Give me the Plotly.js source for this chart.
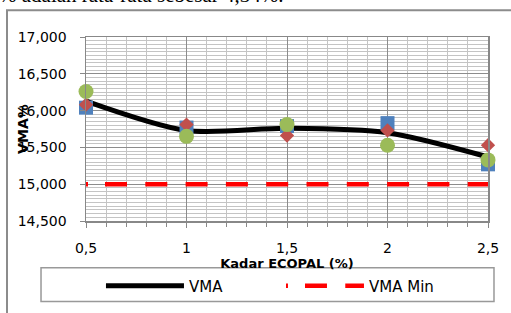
<!DOCTYPE html>
<html>
<head>
<meta charset="utf-8">
<script src="https://cdn.plot.ly/plotly-3.0.1.min.js"></script>
<style>html,body{margin:0;padding:0;background:#fff;}#chart{width:511px;height:313px;}</style>
</head>
<body>
<div id="chart"></div>
<script>
// Kadar ECOPAL (%)
var kadar = [0.5, 1, 1.5, 2, 2.5];
// individual samples (VMA %)
var sampel1 = [16.04, 15.77, 15.79, 15.83, 15.27];
var sampel2 = [16.08, 15.81, 15.66, 15.73, 15.53];
var sampel3 = [16.26, 15.65, 15.81, 15.53, 15.33];
// average line
var vma = [16.13, 15.73, 15.76, 15.70, 15.37];
// minimum spec
var vmaMin = [15, 15, 15, 15, 15];

var traces = [
  {x: kadar, y: vma, name: 'VMA', mode: 'lines', type: 'scatter',
   line: {color: '#000000', width: 5, shape: 'spline', smoothing: 0.8}},
  {x: kadar, y: vmaMin, name: 'VMA Min', mode: 'lines', type: 'scatter',
   line: {color: '#ff0000', width: 4.5, dash: '2px,17px,22px,18.3px,22px,18.3px,22px,18.3px,22px,18.3px,22px,18.3px,22px,18.3px,22px,18.3px,22px,18.3px,22px,18.3px,22px,18.3px'}},
  {x: kadar, y: sampel1, mode: 'markers', type: 'scatter', showlegend: false, cliponaxis: false,
   marker: {symbol: 'square', size: 14, color: '#4F81BD'}},
  {x: kadar, y: sampel2, mode: 'markers', type: 'scatter', showlegend: false, cliponaxis: false,
   marker: {symbol: 'diamond', size: 11, color: '#C0504D'}},
  {x: kadar, y: sampel3, mode: 'markers', type: 'scatter', showlegend: false, cliponaxis: false,
   marker: {symbol: 'circle', size: 15, color: '#9BBB59'}}
];

var layout = {
  width: 511, height: 313,
  margin: {l: 86, r: 23, t: 37, b: 91, pad: 0},
  paper_bgcolor: '#ffffff', plot_bgcolor: '#ffffff',
  separators: ',.',
  font: {family: 'DejaVu Sans', size: 14, color: '#000000'},
  showlegend: true,
  legend: {orientation: 'h', x: 0.485, xanchor: 'center', y: -0.346, yanchor: 'middle',
           bgcolor: 'rgba(0,0,0,0)', font: {size: 15}, itemwidth: 78, entrywidth: 87},
  xaxis: {range: [0.5, 2.5], tickmode: 'linear', tick0: 0.5, dtick: 0.5, ticks: 'outside', ticklen: 5, tickcolor: '#888888',
          showline: true, linecolor: '#888888', linewidth: 1.5, mirror: true,
          showgrid: true, gridcolor: '#8c8c8c', gridwidth: 1, zeroline: false,
          ticklabelstandoff: 9,
          minor: {dtick: 0.1, showgrid: true, gridcolor: '#c4c4c4', gridwidth: 1,
                  ticks: 'outside', ticklen: 4, tickcolor: '#888888'},
          title: {text: '<b>Kadar ECOPAL (%)</b>', font: {size: 13}, standoff: 2}},
  yaxis: {range: [14.5, 17], tickmode: 'linear', tick0: 14.5, dtick: 0.5, tickformat: '.3f', ticks: 'outside', ticklen: 5,
          tickcolor: '#888888', showline: true, linecolor: '#888888', linewidth: 1.5, mirror: true,
          showgrid: true, gridcolor: '#8c8c8c', gridwidth: 1, zeroline: false,
          ticklabelstandoff: 10,
          minor: {dtick: 0.05, showgrid: true, gridcolor: '#c4c4c4', gridwidth: 1}},
  shapes: [
    {type: 'rect', xref: 'paper', yref: 'paper', x0: -0.1965, x1: 1.2, y0: -0.6, y1: 1.146,
     line: {color: '#8c8c8c', width: 2}, fillcolor: 'rgba(0,0,0,0)', layer: 'below'},
    {type: 'rect', xref: 'paper', yref: 'paper', x0: -0.1119, x1: 1.0149, y0: -0.4378, y1: -0.254,
     line: {color: '#999999', width: 1.5}, fillcolor: 'rgba(0,0,0,0)', layer: 'below'}
  ],
  annotations: [
    {text: '<b>VMA%</b>', textangle: -90, xref: 'paper', yref: 'paper', x: -0.157, y: 0.5,
     xanchor: 'center', yanchor: 'middle', showarrow: false, font: {size: 14}},
    {text: '% adalah rata-rata sebesar 4,34%.', xref: 'paper', yref: 'paper', x: -0.222, y: 1.151,
     xanchor: 'left', yanchor: 'bottom', showarrow: false,
     font: {family: 'Liberation Serif', size: 21, color: '#000000'}}
  ]
};

Plotly.newPlot('chart', traces, layout, {displayModeBar: false, staticPlot: true});
</script>
</body>
</html>
